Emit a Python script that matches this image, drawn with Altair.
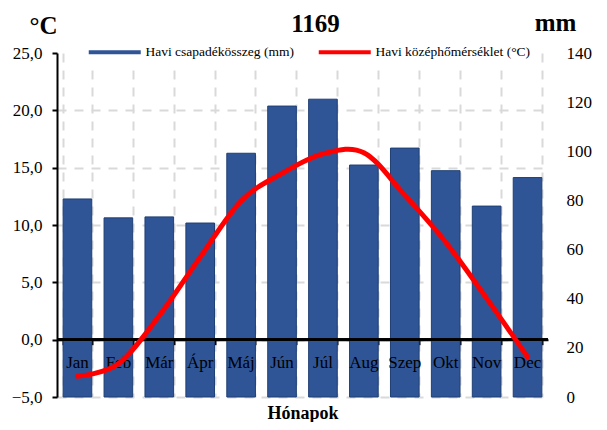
import altair as alt
import pandas as pd

months = ["Jan", "Feb", "Már", "Ápr", "Máj", "Jún", "Júl", "Aug", "Szep", "Okt", "Nov", "Dec"]
precip_mm = [80.6, 72.9, 73.3, 70.8, 99.2, 118.4, 121.2, 94.4, 101.3, 92.1, 77.7, 89.3]
temp_c = [-3.2, -2.1, 2.1, 7.2, 12.1, 14.5, 16.2, 16.3, 12.6, 8.5, 3.6, -1.5]
series_names = ["Havi csapadékösszeg (mm)", "Havi középhőmérséklet (°C)"]
series_colors = ["#2F5597", "#FF0000"]
temp_ticks = [-5, 0, 5, 10, 15, 20, 25]
precip_ticks = [0, 20, 40, 60, 80, 100, 120, 140]
title_text = "1169"

df = pd.DataFrame({"month": months, "mm": precip_mm, "temp": temp_c})

FONT = "Liberation Serif"
W, H = 491, 344
GRID = "#D9D9D9"
DASH = [9, 8]
TSCALE = alt.Scale(domain=[-5, 25], nice=False)

xscale = alt.Scale(domain=months, paddingInner=0.3, paddingOuter=0.15)
xaxis = alt.Axis(
    title="Hónapok", labels=False, tickBand="extent", offset=-H * 5 / 30,
    domainColor="black", domainWidth=2, tickColor="black", tickWidth=2, tickSize=5,
    grid=True, gridColor=GRID, gridDash=DASH, gridWidth=2, zindex=0,
    titleFont=FONT, titleFontSize=18, titleFontWeight="bold", titleColor="black",
    titleY=74, titleBaseline="middle",
)
x_enc = alt.X("month:N", sort=months, scale=xscale, axis=xaxis)

# wide flat bar used as legend swatch (unit = sqrt(symbolSize)/2 = 5 px)
legend_path = "M0,-0.4H10.4V0.4H0Z"

bars = alt.Chart(df).transform_calculate(
    series="'" + series_names[0] + "'"
).mark_bar(stroke="#1F3F73", strokeWidth=1).encode(
    x=x_enc,
    y=alt.Y("mm:Q", scale=alt.Scale(domain=[0, 140], nice=False),
            axis=alt.Axis(orient="right", values=precip_ticks, domain=False, ticks=False,
                          grid=False, labelPadding=18, labelFont=FONT, labelFontSize=17,
                          labelColor="black", title="mm", titleAngle=0, titleX=7, titleY=-31,
                          titleAlign="center", titleBaseline="middle", titleFont=FONT,
                          titleFontSize=25, titleFontWeight="bold", titleColor="black")),
    color=alt.Color("series:N", scale=alt.Scale(domain=series_names, range=series_colors),
                    legend=alt.Legend(orient="none", legendX=20, legendY=-13,
                                      direction="horizontal", columns=2, columnPadding=18,
                                      title=None, fillColor="white", padding=5,
                                      labelFont=FONT, labelFontSize=13.5, labelColor="black",
                                      symbolType=legend_path, symbolSize=100,
                                      symbolStrokeWidth=0, labelOffset=50, zindex=2)),
)

temp_axis = alt.Axis(
    orient="left", values=temp_ticks,
    labelExpr="replace(format(datum.value, '.1f'), '.', ',')",
    labelFont=FONT, labelFontSize=17, labelColor="black", labelPadding=10,
    domainColor="black", domainWidth=2, tickColor="black", tickWidth=2, tickSize=5,
    grid=True, gridColor=GRID, gridDash=DASH, gridWidth=2,
    gridOpacity={"condition": {"test": "datum.value >= 25", "value": 0}, "value": 1},
    title="°C", titleAngle=0, titleX=-14, titleY=-28, titleAlign="center",
    titleBaseline="middle", titleFont=FONT, titleFontSize=25, titleFontWeight="bold",
    titleColor="black", zindex=0,
)
yt = alt.Y("temp:Q", scale=TSCALE, axis=temp_axis)

zero_line = alt.Chart(df).mark_rule(color="black", strokeWidth=2).encode(
    y=alt.datum(0, scale=TSCALE, axis=temp_axis),
)

labels = alt.Chart(df).mark_text(font=FONT, fontSize=17, color="black",
                                 baseline="alphabetic", dy=28).encode(
    x=x_enc,
    y=alt.datum(0, scale=TSCALE, axis=temp_axis),
    text="month:N",
)

line = alt.Chart(df).mark_line(color="#FF0000", strokeWidth=5, interpolate="cardinal",
                               strokeCap="round").encode(
    x=x_enc,
    y=yt,
)

inner = alt.layer(zero_line, labels, line)

chart = alt.layer(bars, inner).resolve_scale(y="independent").properties(
    width=W, height=H,
    autosize=alt.AutoSizeParams(type="none"),
    padding={"left": 49, "top": 45, "right": 51, "bottom": 25},
    title=alt.TitleParams(title_text, font=FONT, fontSize=25, fontWeight="bold",
                          color="black", anchor="middle", dx=13, dy=51,
                          baseline="alphabetic"),
    background="white",
).configure_view(stroke="transparent")

chart.save("out.html", embed_options={"renderer": "svg", "actions": False})
